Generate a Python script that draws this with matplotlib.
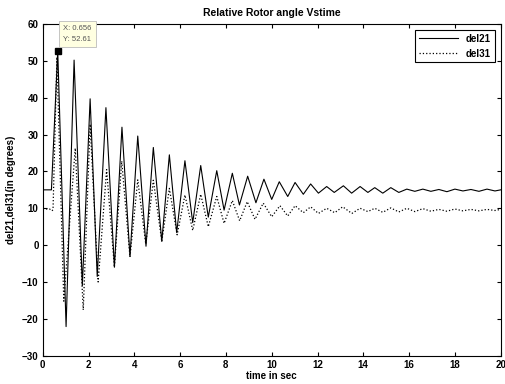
import matplotlib
matplotlib.use('Agg')
import matplotlib.pyplot as plt
import numpy as np

# del21 (solid) - pre-fault level, then peaks/troughs
t21 = [0.0, 0.38,
       0.656, 1.02, 1.37, 1.73, 2.07, 2.38, 2.76, 3.13, 3.46, 3.81,
       4.15, 4.51, 4.83, 5.20, 5.53, 5.85, 6.21, 6.55, 6.90, 7.23,
       7.60, 7.92, 8.28, 8.59, 8.95, 9.31, 9.66, 10.00, 10.33, 10.70,
       11.02, 11.38, 11.70, 12.04, 12.40, 12.73, 13.13, 13.49, 13.86, 14.20,
       14.50, 14.85, 15.20, 15.55, 15.90, 16.25, 16.60, 16.95, 17.30, 17.65,
       18.00, 18.35, 18.70, 19.05, 19.40, 19.75, 20.0]
del21 = [15.0, 15.0,
         52.61, -22.1, 50.2, -11.0, 39.7, -8.5, 37.3, -6.0, 32.0, -3.1,
         29.6, -0.3, 26.5, 1.0, 24.5, 3.4, 22.9, 6.1, 21.6, 7.6,
         20.2, 9.5, 19.5, 10.9, 18.7, 11.5, 17.9, 12.4, 17.2, 13.2,
         17.0, 13.8, 16.6, 14.1, 15.9, 14.3, 16.1, 14.1, 15.9, 14.3,
         15.6, 14.1, 15.6, 14.3, 15.2, 14.6, 15.2, 14.6, 15.1, 14.5,
         15.2, 14.7, 15.1, 14.6, 15.2, 14.7, 15.0]

# del31 (dotted)
t31 = [0.0, 0.30, 0.40, 0.45,
       0.62, 0.92, 1.42, 1.77, 2.07, 2.42, 2.79, 3.13, 3.45, 3.81,
       4.15, 4.50, 4.83, 5.20, 5.53, 5.87, 6.21, 6.55, 6.90, 7.23,
       7.60, 7.92, 8.28, 8.60, 8.93, 9.27, 9.63, 10.00, 10.36, 10.70,
       11.02, 11.38, 11.70, 12.04, 12.40, 12.75, 13.10, 13.50, 13.86, 14.20,
       14.50, 14.85, 15.20, 15.55, 15.90, 16.25, 16.60, 16.95, 17.30, 17.65,
       18.00, 18.35, 18.70, 19.05, 19.40, 19.75, 20.0]
del31 = [9.8, 9.8, 9.3, 9.6,
         51.0, -15.2, 26.3, -17.6, 32.8, -10.0, 20.5, -6.0, 22.8, -3.2,
         17.7, 0.3, 17.6, 1.0, 15.4, 2.8, 13.6, 4.0, 13.8, 5.0,
         13.2, 5.9, 12.1, 6.6, 11.8, 7.0, 11.4, 7.7, 10.7, 7.9,
         10.7, 8.8, 10.4, 8.6, 10.0, 8.8, 10.4, 8.6, 10.0, 9.1,
         10.0, 8.9, 10.1, 9.0, 10.0, 9.1, 9.9, 9.2, 9.7, 9.2,
         9.8, 9.3, 9.7, 9.3, 9.7, 9.4, 9.7]

tip_x, tip_y = 0.656, 52.61

plt.rcParams['font.family'] = ['Liberation Sans', 'DejaVu Sans']
plt.rcParams['font.weight'] = 'bold'
plt.rcParams['font.size'] = 7

fig = plt.figure(figsize=(5.05, 3.84), dpi=100)
ax = fig.add_axes([0.0846, 0.0737, 0.9069, 0.8638])

ax.plot(t21, del21, color='black', linestyle='-', linewidth=0.8, label='del21')
ax.plot(t31, del31, color='black', linestyle=':', linewidth=0.9, label='del31')

# data tip
ax.plot([tip_x], [tip_y], marker='s', color='black', markersize=4.5, linestyle='none')
ax.annotate('X: %.3f\nY: %.2f' % (tip_x, tip_y), xy=(tip_x, tip_y),
            xytext=(4, 6), textcoords='offset points', ha='left', va='bottom',
            fontsize=5.5, fontweight='normal', color='#555555', linespacing=1.7,
            bbox=dict(boxstyle='square,pad=0.55', fc='#ffffe1', ec='#bbbbbb', lw=0.6))

ax.set_xlim(0, 20)
ax.set_ylim(-30, 60)
ax.set_xticks(np.arange(0, 21, 2))
ax.set_yticks(np.arange(-30, 61, 10))
ax.tick_params(direction='in', top=True, right=True, length=3, width=0.8, pad=3)
for s in ax.spines.values():
    s.set_linewidth(0.8)

ax.set_title('Relative Rotor angle Vstime', fontsize=7.5, fontweight='bold', pad=6)
ax.set_xlabel('time in sec', fontsize=7, fontweight='bold', labelpad=1)
ax.set_ylabel('del21,del31(in degrees)', fontsize=7, fontweight='bold', labelpad=4)

leg = ax.legend(loc='upper right', fontsize=7, fancybox=False, edgecolor='black',
                handlelength=4, borderaxespad=0.6, framealpha=1)
leg.get_frame().set_linewidth(0.8)

fig.savefig('out.png', dpi=100)
